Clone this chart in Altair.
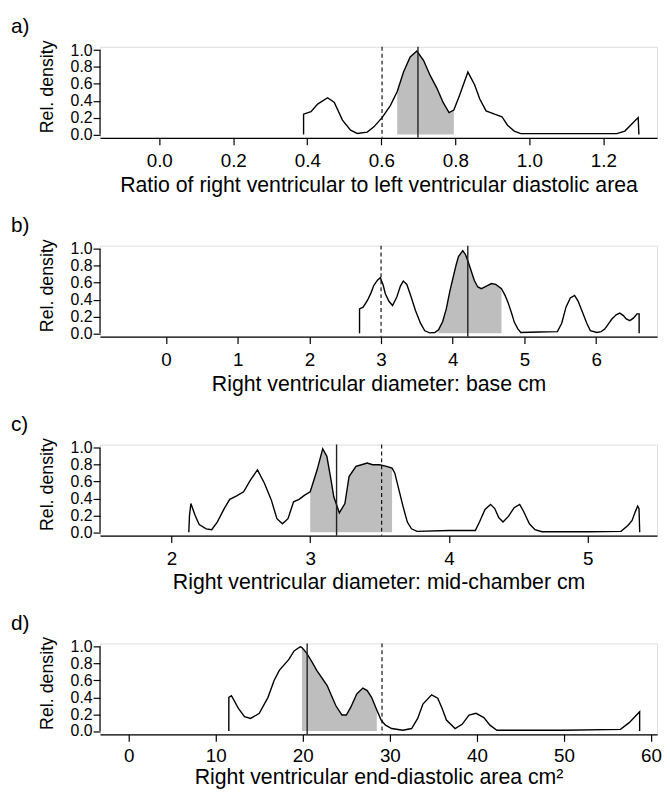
import altair as alt
import pandas as pd

FONT = "Liberation Sans"

# ---------------- data ----------------
letters = ["a)", "b)", "c)", "d)"]
x_titles = [
    "Ratio of right ventricular to left ventricular diastolic area",
    "Right ventricular diameter: base cm",
    "Right ventricular diameter: mid-chamber cm",
    "Right ventricular end-diastolic area cm\u00b2",
]

a_x = [0.39, 0.39, 0.41, 0.428, 0.455, 0.473, 0.495, 0.517, 0.535, 0.562, 0.58, 0.602, 0.624,
       0.643, 0.66, 0.678, 0.696, 0.714, 0.732, 0.75, 0.767, 0.783, 0.796, 0.812, 0.834, 0.852,
       0.866, 0.883, 0.906, 0.926, 0.941, 0.959, 0.977, 1.1, 1.236, 1.258, 1.294, 1.296]
a_y = [0.0, 0.24, 0.27, 0.36, 0.435, 0.38, 0.17, 0.05, 0.012, 0.027, 0.09, 0.2, 0.34,
       0.51, 0.74, 0.92, 0.99, 0.88, 0.70, 0.55, 0.38, 0.26, 0.29, 0.47, 0.74, 0.59,
       0.42, 0.28, 0.24, 0.21, 0.11, 0.04, 0.01, 0.01, 0.01, 0.04, 0.20, 0.0]

b_x = [2.70, 2.70, 2.75, 2.81, 2.86, 2.90, 2.95, 2.99, 3.03, 3.06, 3.11, 3.16, 3.22, 3.27, 3.31,
       3.36, 3.42, 3.48, 3.55, 3.61, 3.68, 3.75, 3.80, 3.86, 3.91, 3.96, 4.01, 4.05, 4.08, 4.14,
       4.18, 4.21, 4.25, 4.30, 4.35, 4.40, 4.47, 4.54, 4.60, 4.68, 4.73, 4.77, 4.82, 4.86, 4.91,
       4.95, 5.20, 5.46, 5.52, 5.58, 5.64, 5.70, 5.75, 5.81, 5.87, 5.92, 6.01, 6.07, 6.12, 6.17,
       6.22, 6.28, 6.33, 6.38, 6.42, 6.47, 6.52, 6.57, 6.60, 6.60]
b_y = [0.0, 0.29, 0.31, 0.39, 0.48, 0.57, 0.63, 0.66, 0.57, 0.47, 0.38, 0.33, 0.43, 0.56, 0.62,
       0.58, 0.43, 0.27, 0.12, 0.03, 0.005, 0.01, 0.04, 0.14, 0.29, 0.50, 0.68, 0.82, 0.91, 0.98,
       0.93, 0.86, 0.76, 0.63, 0.55, 0.53, 0.56, 0.59, 0.58, 0.53, 0.45, 0.37, 0.24, 0.13, 0.05,
       0.01, 0.015, 0.02, 0.12, 0.31, 0.42, 0.45, 0.38, 0.25, 0.12, 0.03, 0.01, 0.02, 0.05, 0.11,
       0.17, 0.22, 0.24, 0.21, 0.17, 0.15, 0.18, 0.23, 0.23, 0.0]

c_x = [2.125, 2.13, 2.14, 2.17, 2.20, 2.25, 2.29, 2.33, 2.38, 2.42, 2.47, 2.52, 2.57, 2.62, 2.67,
       2.72, 2.76, 2.80, 2.84, 2.88, 2.92, 2.96, 3.00, 3.05, 3.09, 3.12, 3.15, 3.17, 3.21, 3.25,
       3.28, 3.33, 3.37, 3.41, 3.45, 3.50, 3.55, 3.59, 3.61, 3.64, 3.67, 3.70, 3.73, 3.77, 4.00,
       4.19, 4.22, 4.26, 4.30, 4.33, 4.36, 4.39, 4.43, 4.47, 4.51, 4.54, 4.58, 4.62, 4.67, 5.00,
       5.24, 5.29, 5.32, 5.345, 5.36, 5.37, 5.375]
c_y = [0.0, 0.20, 0.34, 0.20, 0.09, 0.04, 0.03, 0.12, 0.28, 0.39, 0.43, 0.48, 0.62, 0.74, 0.58,
       0.38, 0.16, 0.10, 0.16, 0.36, 0.39, 0.44, 0.48, 0.74, 0.99, 0.90, 0.62, 0.42, 0.23, 0.34,
       0.66, 0.78, 0.80, 0.82, 0.80, 0.80, 0.78, 0.76, 0.70, 0.50, 0.30, 0.12, 0.04, 0.01, 0.02,
       0.02, 0.12, 0.27, 0.33, 0.28, 0.17, 0.12, 0.19, 0.29, 0.33, 0.24, 0.10, 0.03, 0.005, 0.005,
       0.01, 0.08, 0.14, 0.25, 0.31, 0.28, 0.0]

d_x = [11.5, 11.5, 11.8, 12.6, 13.3, 14.0, 15.0, 16.0, 16.7, 17.3, 18.4, 19.0, 19.7, 19.9, 20.4,
       21.0, 21.6, 22.8, 23.3, 23.8, 24.5, 25.0, 25.5, 26.2, 26.9, 27.4, 27.9, 28.5, 29.0, 29.5,
       30.2, 31.5, 32.5, 33.2, 33.8, 34.8, 35.5, 36.0, 36.5, 37.5, 38.3, 39.1, 39.9, 40.8, 41.5,
       42.3, 50.0, 56.5, 57.5, 58.7, 58.7]
d_y = [0.0, 0.40, 0.42, 0.27, 0.17, 0.15, 0.21, 0.40, 0.60, 0.72, 0.85, 0.95, 1.0, 0.99, 0.93,
       0.83, 0.72, 0.54, 0.42, 0.30, 0.19, 0.19, 0.28, 0.44, 0.51, 0.48, 0.40, 0.25, 0.13, 0.07,
       0.03, 0.01, 0.03, 0.15, 0.32, 0.43, 0.39, 0.27, 0.13, 0.03, 0.08, 0.19, 0.21, 0.16, 0.07,
       0.01, 0.01, 0.02, 0.10, 0.23, 0.0]

# shaded interval, solid (median) and dashed (reference) lines
shade_lo = [0.643, 3.80, 3.00, 19.9]
shade_hi = [0.796, 4.68, 3.59, 28.5]
solid_at = [0.699, 4.21, 3.19, 20.5]
dashed_at = [0.602, 3.00, 3.515, 29.1]

# axis ticks
x_ticks = [
    [0.0, 0.2, 0.4, 0.6, 0.8, 1.0, 1.2],
    [0, 1, 2, 3, 4, 5, 6],
    [2, 3, 4, 5],
    [0, 10, 20, 30, 40, 50, 60],
]
x_formats = [".1f", "d", "d", "d"]
y_ticks = [0.0, 0.2, 0.4, 0.6, 0.8, 1.0]
y_span = [0.0, 1.0]

# ---------------- layout / style ----------------
x_domains = [[-0.16, 1.345], [-0.92, 6.85], [1.485, 5.50], [-3.3, 60.7]]
Y_DOMAIN = [-0.04, 1.04]
W, H = 563, 92
SHADE = "#bebebe"
letter_y = [-20, -20, -20, -20]
x_label_pad = [7, 7, 7, 5]
x_title_pad = [4, 4, 4, 2]


def panel(k, xs, ys):
    df = pd.DataFrame({"x": xs, "y": ys, "i": list(range(len(xs)))})
    xsc = alt.Scale(domain=x_domains[k], nice=False, zero=False)
    ysc = alt.Scale(domain=Y_DOMAIN, nice=False, zero=False)
    xax = alt.Axis(values=x_ticks[k], format=x_formats[k], title=x_titles[k],
                   grid=False, domain=True, domainColor="black", domainWidth=1.2,
                   ticks=True, tickColor="black", tickSize=7, tickWidth=1.2,
                   labelFontSize=19, labelPadding=x_label_pad[k], labelColor="black",
                   labelFont=FONT, labelFlush=False, labelOverlap=False,
                   titleFontSize=21.5, titleFont=FONT, titleFontWeight="normal",
                   titleColor="black", titlePadding=x_title_pad[k])
    yax = alt.Axis(values=y_ticks, format=".1f", title="Rel. density",
                   grid=False, domain=False, ticks=True, tickColor="black", tickSize=7,
                   tickWidth=1.2, labelFontSize=16, labelPadding=1, labelColor="black",
                   labelFont=FONT, labelOverlap=False, labelBound=False, labelFlush=False,
                   titleFontSize=18, titleFont=FONT, titleFontWeight="normal",
                   titleColor="black", titlePadding=14, titleY=40)
    X = alt.X("x:Q", scale=xsc, axis=xax)
    Y = alt.Y("y:Q", scale=ysc, axis=yax, stack=None)
    base = alt.Chart(df)
    area = base.transform_filter(
        alt.FieldRangePredicate(field="x", range=[shade_lo[k], shade_hi[k]])
    ).mark_area(color=SHADE, opacity=1, strokeWidth=0).encode(x=X, y=Y)
    line = base.mark_line(color="black", strokeWidth=1.4).encode(
        x=X, y=Y, order=alt.Order("i:Q"))
    solid = alt.Chart(pd.DataFrame({"x": [solid_at[k]]})).mark_rule(
        color="#222222", strokeWidth=1.4).encode(x=X)
    dashed = alt.Chart(pd.DataFrame({"x": [dashed_at[k]]})).mark_rule(
        color="black", strokeWidth=1.1, strokeDash=[4, 3]).encode(x=X)
    yline = alt.Chart(pd.DataFrame({"y": [y_span[0]], "y2": [y_span[1]]})).mark_rule(
        color="black", strokeWidth=1.2).encode(
        x=alt.value(0), y=Y, y2="y2:Q")
    letter = alt.Chart(pd.DataFrame({"t": [letters[k]]})).mark_text(
        align="left", baseline="middle", fontSize=21, font=FONT, color="black").encode(
        x=alt.value(-90), y=alt.value(letter_y[k]), text="t:N")
    return alt.layer(area, line, solid, dashed, yline, letter).properties(width=W, height=H)


chart = alt.vconcat(
    panel(0, a_x, a_y),
    panel(1, b_x, b_y),
    panel(2, c_x, c_y),
    panel(3, d_x, d_y),
    spacing=18,
).properties(
    padding={"left": 2, "top": 3, "right": 0, "bottom": 0},
).configure_view(stroke=None).configure(background="white")

chart.save("out.html", embed_options={"renderer": "svg", "actions": False})
